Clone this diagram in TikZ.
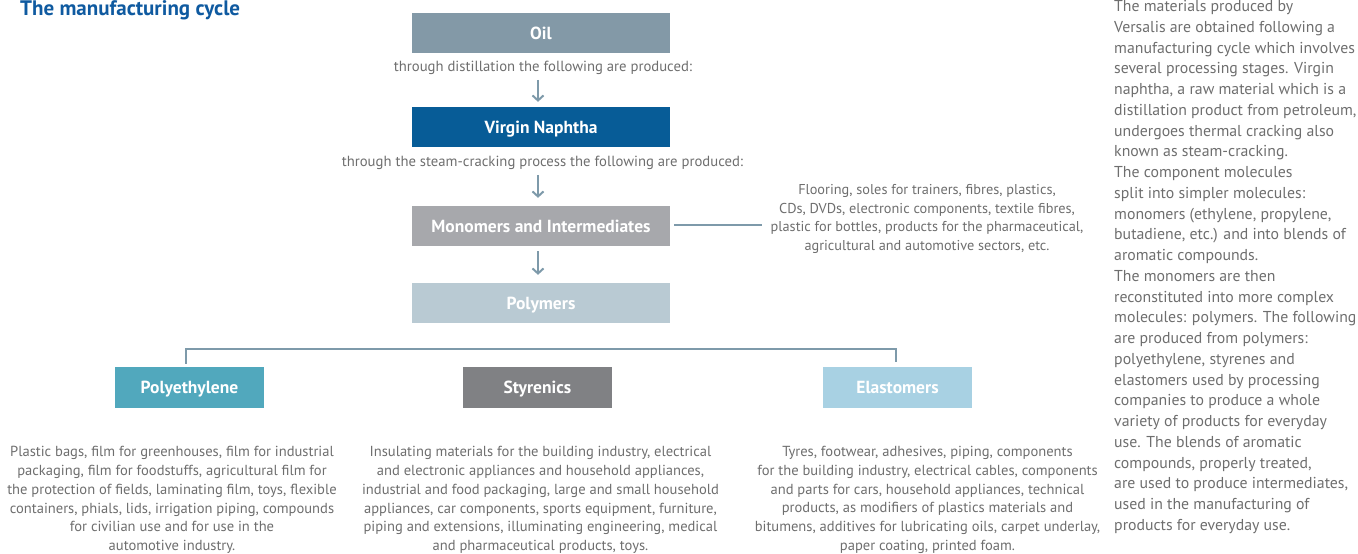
\documentclass[tikz,border=0pt]{standalone}
\usepackage{fontspec}
\setmainfont{PT Sans}
\usetikzlibrary{arrows.meta}
\definecolor{titleblue}{HTML}{0F5AA0}
\definecolor{txtgray}{HTML}{6E6E6E}
\definecolor{oilc}{HTML}{8399A7}
\definecolor{naphc}{HTML}{075C97}
\definecolor{monoc}{HTML}{A7A8AC}
\definecolor{polyc}{HTML}{B9CAD3}
\definecolor{pec}{HTML}{51A8BD}
\definecolor{styc}{HTML}{808184}
\definecolor{elac}{HTML}{A8D1E3}
\definecolor{linec}{HTML}{7E9AAA}
\begin{document}
\begin{tikzpicture}[x=1pt,y=-1pt,
  bigbox/.style={minimum width=258pt, minimum height=40pt, inner sep=0pt, text=white,
    text height=12.6pt, text depth=0pt,
    font=\fontsize{17.5}{19}\selectfont\bfseries},
  smallbox/.style={minimum width=149pt, minimum height=41pt, inner sep=0pt, text=white,
    text height=12.6pt, text depth=0pt,
    font=\fontsize{17.5}{19}\selectfont\bfseries},
  steplabel/.style={inner sep=0pt, text=txtgray, font=\fontsize{14.7}{17}\selectfont},
  desc/.style={inner sep=0pt, text=txtgray, align=center, font=\fontsize{14.55}{18.7}\selectfont},
  para/.style={inner sep=0pt, text=txtgray, align=left, font=\fontsize{15.8}{20.75}\selectfont},
  arr/.style={draw=linec, line width=2pt, -{Straight Barb[length=5pt,width=11pt,line width=2pt]}},
  conn/.style={draw=linec, line width=1.4pt}
]
\useasboundingbox (0,0) rectangle (1358,554);

\node[anchor=base west, inner sep=0pt, text=titleblue, font=\fontsize{21}{23}\selectfont\bfseries] (title) at (20,15) {The manufacturing cycle};

\node[bigbox, fill=oilc] (oil) at (541,33) {Oil};
\node[steplabel] (t1) at (543,68) {through distillation the following are produced:};
\node[bigbox, fill=naphc] (naph) at (541,127) {Virgin Naphtha};
\node[steplabel] (t2) at (542.5,163) {through the steam-cracking process the following are produced:};
\node[bigbox, fill=monoc] (mono) at (541,226) {Monomers and Intermediates};
\node[bigbox, fill=polyc] (poly) at (541,303) {Polymers};

\draw[arr] ([xshift=-5pt,yshift=-5pt]t1.south) -- ([xshift=-3pt,yshift=5pt]naph.north);
\draw[arr] ([xshift=-4.5pt,yshift=-5pt]t2.south) -- ([xshift=-3pt,yshift=8pt]mono.north);
\draw[arr] ([xshift=-3pt,yshift=-5pt]mono.south) -- ([xshift=-3pt,yshift=8pt]poly.north);

\node[desc, font=\fontsize{14.3}{18.6}\selectfont] (floor) at (927,219) {Flooring, soles for trainers, fibres, plastics,\\
CDs, DVDs, electronic components, textile fibres,\\
plastic for bottles, products for the pharmaceutical,\\
agricultural and automotive sectors, etc.};
\draw[conn] ([xshift=4pt,yshift=1pt]mono.east) -- ++(88,0);

\node[smallbox, fill=pec] (pe) at (189.5,387.5) {Polyethylene};
\node[smallbox, fill=styc] (sty) at (537.5,387.5) {Styrenics};
\node[smallbox, fill=elac] (ela) at (897.5,387.5) {Elastomers};

\coordinate (bl) at (186,349);
\coordinate (br) at (896,349);
\draw[conn] ([xshift=-3.5pt,yshift=3pt]pe.north) -- (bl) -- (br) -- ([xshift=-1.5pt,yshift=5pt]ela.north);

\node[desc] (pedesc) at (172,500) {Plastic bags, film for greenhouses, film for industrial\\
packaging, film for foodstuffs, agricultural film for\\
the protection of fields, laminating film, toys, flexible\\
containers, phials, lids, irrigation piping, compounds\\
for civilian use and for use in the\\
automotive industry.};
\node[desc] (stydesc) at (540.5,500) {Insulating materials for the building industry, electrical\\
and electronic appliances and household appliances,\\
industrial and food packaging, large and small household\\
appliances, car components, sports equipment, furniture,\\
piping and extensions, illuminating engineering, medical\\
and pharmaceutical products, toys.};
\node[desc] (eladesc) at (927.5,500) {Tyres, footwear, adhesives, piping, components\\
for the building industry, electrical cables, components\\
and parts for cars, household appliances, technical\\
products, as modifiers of plastics materials and\\
bitumens, additives for lubricating oils, carpet underlay,\\
paper coating, printed foam.};

\node[para, anchor=north west] (side) at (1114,0.3) {The materials produced by\\
Versalis are obtained following a\\
manufacturing cycle which involves\\
several processing stages. Virgin\\
naphtha, a raw material which is a\\
distillation product from petroleum,\\
undergoes thermal cracking also\\
known as steam-cracking.\\
The component molecules\\
split into simpler molecules:\\
monomers (ethylene, propylene,\\
butadiene, etc.) and into blends of\\
aromatic compounds.\\
The monomers are then\\
reconstituted into more complex\\
molecules: polymers. The following\\
are produced from polymers:\\
polyethylene, styrenes and\\
elastomers used by processing\\
companies to produce a whole\\
variety of products for everyday\\
use. The blends of aromatic\\
compounds, properly treated,\\
are used to produce intermediates,\\
used in the manufacturing of\\
products for everyday use.};
\end{tikzpicture}
\end{document}
